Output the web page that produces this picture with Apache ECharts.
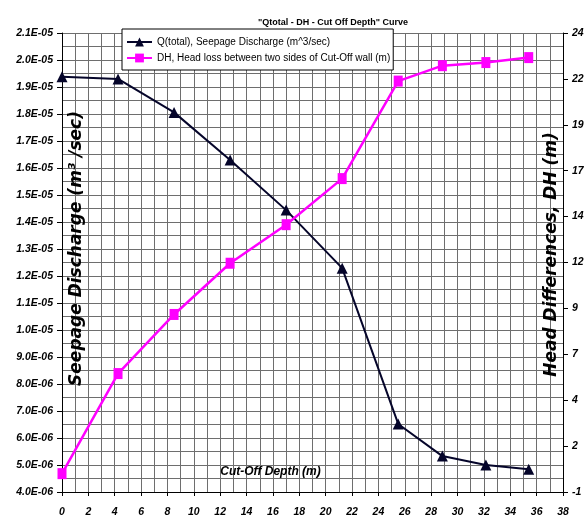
<!DOCTYPE html>
<html><head><meta charset="utf-8">
<script src="https://cdn.jsdelivr.net/npm/echarts@6/dist/echarts.min.js"></script>
<style>html,body{margin:0;padding:0;background:#fff}#c{width:587px;height:522px}</style>
</head><body><div id="c"></div>
<script>
const cutOffDepth = [0, 4.25, 8.5, 12.75, 17, 21.25, 25.5, 28.85, 32.15, 35.4];
const qTotal = [1.938e-5, 1.93e-5, 1.806e-5, 1.63e-5, 1.444e-5, 1.229e-5, 6.52e-6, 5.33e-6, 5.0e-6, 4.84e-6];
const headLoss = [0, 5.45, 8.67, 11.46, 13.56, 16.07, 21.38, 22.22, 22.39, 22.66];
const rightTicks = [-1, 1.5, 4, 6.5, 9, 11.5, 14, 16.5, 19, 21.5, 24];
const titleText = '"Qtotal - DH - Cut Off Depth" Curve';
const qName = 'Q(total), Seepage Discharge (m^3/sec)';
const dhName = 'DH, Head loss between two sides of Cut-Off wall (m)';

const narrow = "'Liberation Sans Narrow','Arial Narrow','Liberation Sans',Arial,sans-serif";
const wide = "'Liberation Sans',Arial,sans-serif";
const wideName = "'DejaVu Sans','Liberation Sans',Arial,sans-serif";
const gridColor = '#6e6e6e';

function sci(v) {
  const parts = v.toExponential(1).split('e');
  const e = parseInt(parts[1], 10);
  const s = e < 0 ? '-' : '+';
  const a = Math.abs(e);
  return parts[0] + 'E' + s + (a < 10 ? '0' + a : '' + a);
}
function excelRound(v) { return String(Math.sign(v) * Math.round(Math.abs(v))); }

const tickFont = {fontFamily: narrow, fontSize: 10.5, fontWeight: 'bold', fontStyle: 'italic', color: '#000'};

const chart = echarts.init(document.getElementById('c'), null, {renderer: 'canvas'});
chart.setOption({
  animation: false,
  backgroundColor: '#fff',
  title: {
    text: titleText, left: 328, top: 13, textAlign: 'center',
    textStyle: {fontFamily: narrow, fontSize: 9, fontWeight: 'bold', color: '#000'}
  },
  legend: {
    orient: 'vertical', left: 122, top: 29,
    backgroundColor: '#fff', borderColor: '#000', borderWidth: 1,
    padding: [8, 3, 7, 4], itemGap: 6, itemWidth: 25, itemHeight: 11,
    textStyle: {fontFamily: narrow, fontSize: 10, color: '#000'},
    data: [qName, dhName]
  },
  grid: {left: 62, right: 24, top: 33, bottom: 30, containLabel: false, outerBoundsMode: 'none'},
  xAxis: {
    type: 'value', min: 0, max: 38, interval: 2,
    name: 'Cut-Off Depth (m)', nameLocation: 'middle', nameGap: -26, nameMoveOverlap: false,
    nameTextStyle: {fontFamily: wide, fontSize: 12, fontWeight: 'bold', fontStyle: 'italic', color: '#000', padding: [0, 84, 0, 0]},
    axisLine: {show: true, onZero: false, lineStyle: {color: '#000', width: 1}},
    axisTick: {show: true, length: 4, lineStyle: {color: '#000'}},
    axisLabel: Object.assign({margin: 15}, tickFont),
    splitLine: {show: true, lineStyle: {color: gridColor, width: 1}},
    minorTick: {show: false, splitNumber: 2},
    minorSplitLine: {show: true, lineStyle: {color: gridColor, width: 1}}
  },
  yAxis: [{
    type: 'value', position: 'left', min: 4e-6, max: 2.1e-5, interval: 1e-6,
    name: 'Seepage Discharge (m³ /sec)', nameLocation: 'middle', nameGap: -23, nameRotate: 90, nameMoveOverlap: false,
    nameTextStyle: {fontFamily: wideName, fontSize: 17, fontWeight: 'bold', fontStyle: 'italic', color: '#000', padding: [0, 0, 0, 28]},
    axisLine: {show: true, onZero: false, lineStyle: {color: '#000', width: 1}},
    axisTick: {show: true, length: 5, lineStyle: {color: '#000'}},
    axisLabel: Object.assign({margin: 9, formatter: sci}, tickFont),
    splitLine: {show: true, lineStyle: {color: gridColor, width: 1}},
    minorTick: {show: false, splitNumber: 2},
    minorSplitLine: {show: true, lineStyle: {color: gridColor, width: 1}}
  }, {
    type: 'value', position: 'right', min: -1, max: 24,
    name: 'Head Differences, DH (m)', nameLocation: 'middle', nameGap: -20, nameRotate: 90, nameMoveOverlap: false,
    nameTextStyle: {fontFamily: wideName, fontSize: 17, fontWeight: 'bold', fontStyle: 'italic', color: '#000', padding: [0, 0, 0, 16]},
    axisLine: {show: true, onZero: false, lineStyle: {color: '#000', width: 1}},
    axisTick: {show: true, length: 5, customValues: rightTicks, lineStyle: {color: '#000'}},
    axisLabel: Object.assign({margin: 9, customValues: rightTicks, formatter: excelRound}, tickFont),
    splitLine: {show: false}
  }],
  series: [{
    name: qName, type: 'line', yAxisIndex: 0,
    data: cutOffDepth.map((x, i) => [x, qTotal[i]]),
    symbol: 'triangle', symbolSize: 11,
    lineStyle: {color: '#05052a', width: 2},
    itemStyle: {color: '#05052a'}
  }, {
    name: dhName, type: 'line', yAxisIndex: 1,
    data: cutOffDepth.map((x, i) => [x, headLoss[i]]),
    symbol: 'rect', symbolSize: [9, 11],
    lineStyle: {color: '#ff00ff', width: 2.5},
    itemStyle: {color: '#ff00ff'}
  }]
});
</script></body></html>
